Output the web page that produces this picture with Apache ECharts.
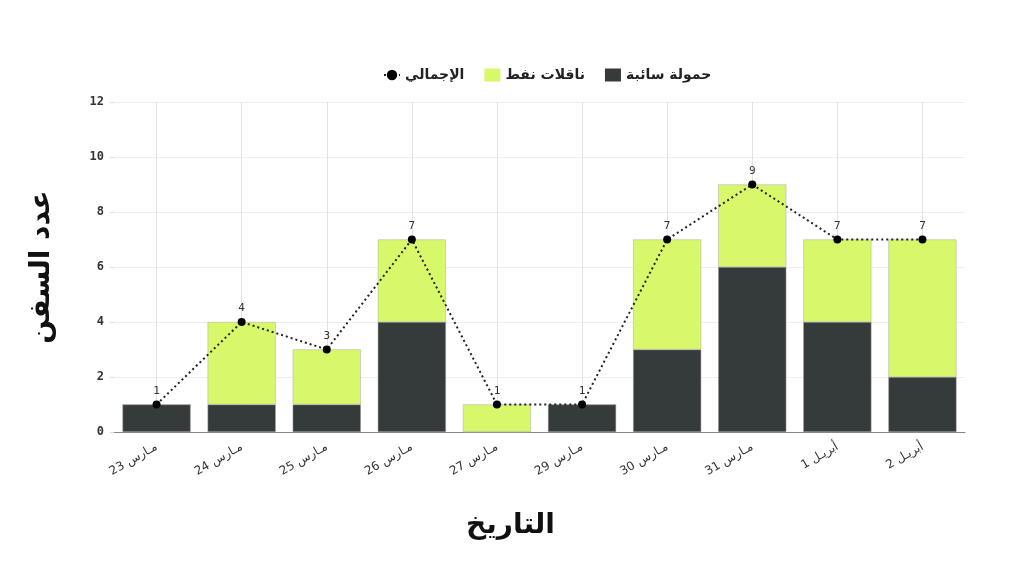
<!DOCTYPE html>
<html><head><meta charset="utf-8">
<script src="https://cdn.jsdelivr.net/npm/echarts@6/dist/echarts.min.js"></script>
<style>html,body{margin:0;padding:0;background:#fff}#c{width:1024px;height:576px}</style>
</head><body><div id="c"></div>
<script>
const categories = ['مـارس 23','مـارس 24','مـارس 25','مـارس 26','مـارس 27','مـارس 29','مـارس 30','مـارس 31','أبريـل 1','أبريـل 2'];
const bulkCarriers = [1,1,1,4,0,1,3,6,4,2];
const oilTankers = [0,3,2,3,1,0,4,3,3,5];
const totals = [1,4,3,7,1,1,7,9,7,7];
const yTicks = [0,2,4,6,8,10,12];

const arabicFont = 'DejaVu Sans';
const monoFont = 'DejaVu Sans Mono';
const chart = echarts.init(document.getElementById('c'));
chart.setOption({
  animation:false,
  legend:{
    top:63, left:378, itemGap:20, itemWidth:16, itemHeight:13,
    itemStyle:{borderWidth:0},
    data:[{name:'الإجمالي'},{name:'ناقلات نفط', icon:'rect'},{name:'حمولة سائبة', icon:'rect'}],
    textStyle:{fontFamily:arabicFont, fontWeight:'bold', fontSize:14, color:'#222'}
  },
  grid:{left:114, right:59, top:102, bottom:144},
  xAxis:{
    type:'category', data:categories,
    name:'التاريخ', nameLocation:'middle', nameGap:80,
    nameTextStyle:{fontFamily:arabicFont, fontWeight:'bold', fontSize:28, color:'#111', padding:[0,58,0,0]},
    axisLine:{lineStyle:{color:'#888', width:1.2}},
    axisTick:{alignWithLabel:true, length:5, lineStyle:{color:'#ddd'}},
    axisLabel:{rotate:30, margin:14, fontFamily:arabicFont, fontSize:12, color:'#333'},
    splitLine:{show:true, alignWithLabel:true, lineStyle:{color:'#e2e2e2', width:1}}
  },
  yAxis:{
    type:'value', min:yTicks[0], max:yTicks[yTicks.length-1], interval:2,
    name:'عدد السفن', nameLocation:'middle', nameGap:58, nameRotate:90,
    nameTextStyle:{fontFamily:arabicFont, fontWeight:'bold', fontSize:28, color:'#111'},
    axisLine:{show:false},
    axisTick:{show:true, length:4, lineStyle:{color:'#ddd'}},
    axisLabel:{fontFamily:monoFont, fontSize:12, fontWeight:'bold', color:'#333', margin:10},
    splitLine:{lineStyle:{color:'#eeeeee', width:1}}
  },
  series:[
    {name:'حمولة سائبة', type:'bar', stack:'s', data:bulkCarriers, barCategoryGap:'20%',
     itemStyle:{color:'#353b3b', borderColor:'#999', borderWidth:0.5}},
    {name:'ناقلات نفط', type:'bar', stack:'s', data:oilTankers,
     itemStyle:{color:'#d8f86c', borderColor:'#aaa', borderWidth:0.5}},
    {name:'الإجمالي', type:'line', data:totals, symbol:'circle', symbolSize:8,
     itemStyle:{color:'#000'},
     lineStyle:{color:'#222', width:2, type:[2,3]},
     label:{show:true, position:'top', distance:4, fontFamily:monoFont, fontSize:11, color:'#333'}}
  ]
});
</script></body></html>
